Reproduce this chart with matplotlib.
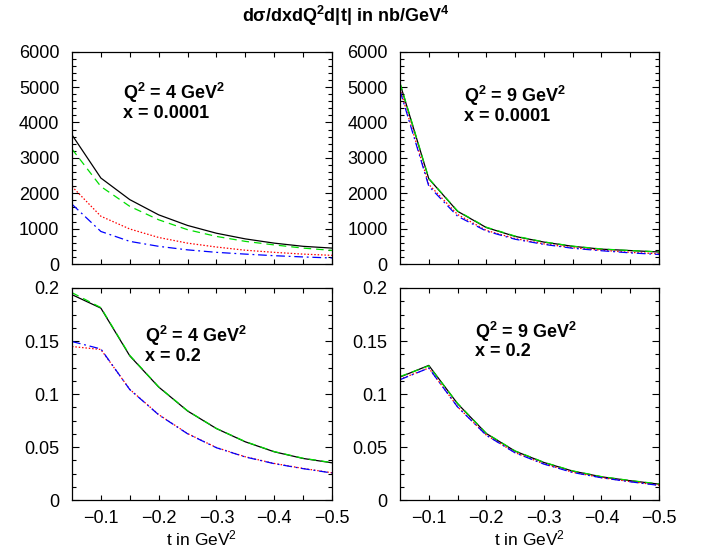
import matplotlib
matplotlib.use("Agg")
import matplotlib.pyplot as plt
from matplotlib.ticker import MultipleLocator, FixedLocator

plt.rcParams['font.family'] = ['Liberation Sans', 'DejaVu Sans']
plt.rcParams['mathtext.fontset'] = 'custom'
plt.rcParams['mathtext.rm'] = 'Liberation Sans'
plt.rcParams['mathtext.bf'] = 'Liberation Sans:bold'
plt.rcParams['mathtext.it'] = 'Liberation Sans:italic'

# t values (GeV^2)
t = [-0.05, -0.10, -0.15, -0.20, -0.25, -0.30, -0.35, -0.40, -0.45, -0.50]

# Q^2 = 4, x = 0.0001
q4_small_black = [3650, 2430, 1820, 1390, 1090, 870, 710, 590, 500, 450]
q4_small_green = [3250, 2190, 1630, 1250, 970, 780, 640, 540, 450, 385]
q4_small_red = [2190, 1350, 990, 750, 590, 480, 390, 330, 280, 245]
q4_small_blue = [1690, 920, 640, 500, 400, 330, 280, 235, 200, 170]

# Q^2 = 9, x = 0.0001
q9_small_black = [5100, 2410, 1490, 1030, 780, 620, 500, 420, 380, 340]
q9_small_green = [5120, 2420, 1500, 1040, 790, 625, 505, 425, 380, 345]
q9_small_red = [4950, 2250, 1400, 950, 720, 570, 460, 390, 330, 290]
q9_small_blue = [4900, 2200, 1350, 930, 700, 555, 445, 375, 315, 270]

# Q^2 = 4, x = 0.2
q4_large_black = [0.1937, 0.181, 0.136, 0.1066, 0.084, 0.0674, 0.0549, 0.0455, 0.0392, 0.0351]
q4_large_green = [0.1956, 0.1815, 0.1365, 0.1068, 0.0842, 0.0675, 0.0551, 0.0457, 0.0394, 0.0353]
q4_large_red = [0.1448, 0.142, 0.1044, 0.0806, 0.0627, 0.0495, 0.0408, 0.0345, 0.0298, 0.0257]
q4_large_blue = [0.1495, 0.1425, 0.1042, 0.0804, 0.0625, 0.0493, 0.0406, 0.0343, 0.0296, 0.0255]

# Q^2 = 9, x = 0.2
q9_large_black = [0.116, 0.127, 0.0909, 0.0627, 0.0461, 0.0354, 0.0273, 0.0219, 0.0182, 0.0150]
q9_large_green = [0.1165, 0.1265, 0.0912, 0.0629, 0.0463, 0.0356, 0.0275, 0.0221, 0.0184, 0.0152]
q9_large_red = [0.1140, 0.1245, 0.0880, 0.0612, 0.0447, 0.0341, 0.0262, 0.0211, 0.0174, 0.0140]
q9_large_blue = [0.1135, 0.1245, 0.0878, 0.0611, 0.0445, 0.0339, 0.0260, 0.0210, 0.0172, 0.0138]

panels = [
    ([0.1011, 0.5277, 0.3652, 0.3798], [q4_small_black, q4_small_green, q4_small_red, q4_small_blue],
     r'Q$^{\mathbf{2}}$ = 4 GeV$^{\mathbf{2}}$', 'x = 0.0001', (0.196, 0.805), False),
    ([0.5618, 0.5277, 0.3638, 0.3798], [q9_small_black, q9_small_green, q9_small_red, q9_small_blue],
     r'Q$^{\mathbf{2}}$ = 9 GeV$^{\mathbf{2}}$', 'x = 0.0001', (0.247, 0.79), False),
    ([0.1011, 0.1055, 0.3652, 0.3793], [q4_large_black, q4_large_green, q4_large_red, q4_large_blue],
     r'Q$^{\mathbf{2}}$ = 4 GeV$^{\mathbf{2}}$', 'x = 0.2', (0.28, 0.772), True),
    ([0.5618, 0.1055, 0.3638, 0.3793], [q9_large_black, q9_large_green, q9_large_red, q9_large_blue],
     r'Q$^{\mathbf{2}}$ = 9 GeV$^{\mathbf{2}}$', 'x = 0.2', (0.29, 0.795), True),
]

fig = plt.figure(figsize=(7.12, 5.59), dpi=100)

for rect, curves, qtxt, xtxt, tpos, bottom in panels:
    ax = fig.add_axes(rect)
    black, green, red, blue = curves
    ax.plot(t, black, color='black', lw=0.9, ls='-')
    ax.plot(t, green, color='#00dd00', lw=0.9, ls=(0, (6, 4)))
    ax.plot(t, red, color='red', lw=0.9, ls=(0, (1.2, 1.5)))
    ax.plot(t, blue, color='blue', lw=0.9, ls=(0, (7, 3, 1.5, 3)))
    ax.set_xlim(-0.05, -0.5)
    ax.xaxis.set_major_locator(FixedLocator([-0.1, -0.2, -0.3, -0.4, -0.5]))
    ax.xaxis.set_minor_locator(FixedLocator([-0.15, -0.25, -0.35, -0.45]))
    if bottom:
        ax.set_ylim(0, 0.2)
        ax.yaxis.set_major_locator(FixedLocator([0, 0.05, 0.1, 0.15, 0.2]))
        ax.set_yticklabels(['0', '0.05', '0.1', '0.15', '0.2'])
        ax.yaxis.set_minor_locator(MultipleLocator(0.0125))
        ax.set_xticklabels(['\u22120.1', '\u22120.2', '\u22120.3', '\u22120.4', '\u22120.5'])
        ax.set_xlabel(r't in GeV$^2$', fontsize=12.5, labelpad=1)
    else:
        ax.set_ylim(0, 6000)
        ax.yaxis.set_major_locator(MultipleLocator(1000))
        ax.yaxis.set_minor_locator(MultipleLocator(200))
        ax.set_xticklabels([])
    ax.tick_params(axis='both', which='both', direction='in', top=True, right=True,
                   labelsize=13, width=0.8)
    ax.tick_params(axis='y', which='major', length=5, pad=9)
    ax.tick_params(axis='y', which='minor', length=3)
    ax.tick_params(axis='x', which='both', length=3.5, pad=7)
    for s in ax.spines.values():
        s.set_linewidth(0.9)
    ax.text(tpos[0], tpos[1], qtxt, transform=ax.transAxes, fontsize=13,
            fontweight='bold', va='center', ha='left')
    ax.text(tpos[0], tpos[1] - 0.095, xtxt, transform=ax.transAxes, fontsize=13,
            fontweight='bold', va='center', ha='left')

fig.text(0.485, 0.972, 'd\u03c3/dxdQ$^{\\mathbf{2}}$d|t| in nb/GeV$^{\\mathbf{4}}$',
         fontsize=13, fontweight='bold', ha='center', va='center')

fig.savefig('out.png', dpi=100)
